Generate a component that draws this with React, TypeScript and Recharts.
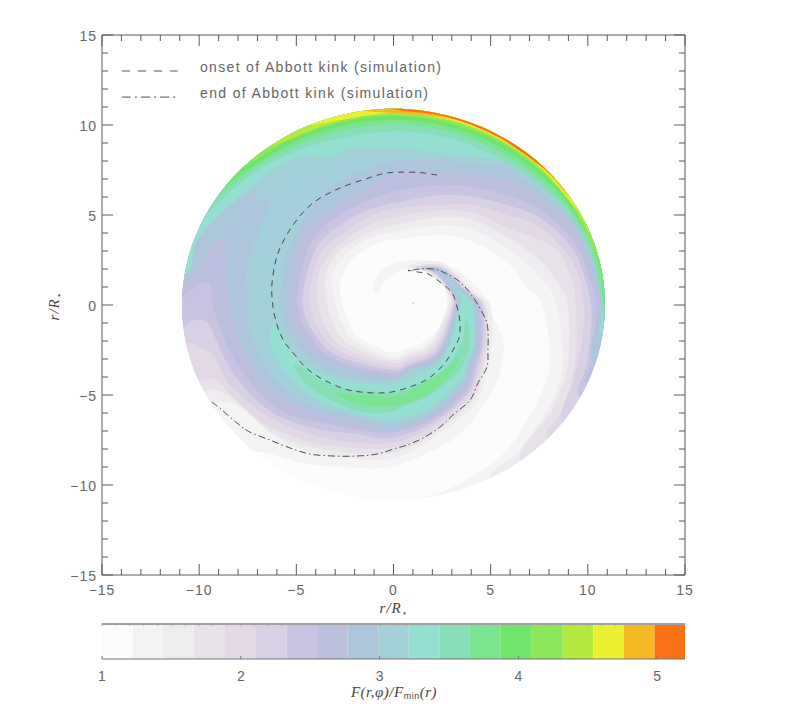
import React from 'react';
import { ScatterChart, Scatter, XAxis, YAxis, BarChart, Bar } from 'recharts';

type Pair = number[];

const axisTicks = [-15,-14,-13,-12,-11,-10,-9,-8,-7,-6,-5,-4,-3,-2,-1,0,1,2,3,4,5,6,7,8,9,10,11,12,13,14,15];
const barMinorTicks = [1,1.1,1.2,1.3,1.4,1.5,1.6,1.7,1.8,1.9,2,2.1,2.2,2.3,2.4,2.5,2.6,2.7,2.8,2.9,3,3.1,3.2,3.3,3.4,3.5,3.6,3.7,3.8,3.9,4,4.1,4.2,4.3,4.4,4.5,4.6,4.7,4.8,4.9,5,5.1,5.2];
const barWidths = [.22,.22,.22,.22,.23,.22,.22,.22,.22,.22,.22,.22,.22,.22,.23,.22,.22,.22,.22];
const levelColors = ['#fcfcfc','#f4f4f4','#eeecee','#e8e2ea','#e2d8e6','#d8d0e4','#c8c4e2','#bcc0de','#aec6dc','#a4d0da','#96dfd3','#88deb6','#7ae48e','#70e46a','#8ce858','#b4ea40','#eaf030','#f4b822','#fa7014'];

const diskRim: Pair[] = [[0,10.88],[15,10.88],[30,10.88],[45,10.88],[60,10.88],[75,10.88],[90,10.9],[105,10.88],[120,10.88],[135,10.88],[150,10.88],[165,10.88],[180,10.88],[195,10.88],[210,10.86],[225,10.84],[240,10.82],[255,10.82],[270,10.82],[285,10.82],[300,10.84],[315,10.86],[330,10.88],[345,10.88]];

const level1: Pair[] = [[-1.06,.83],[-.95,1.39],[-.44,2.06],[.33,2.39],[1.52,2.5],[3.01,2.11],[4.45,.83],[4.97,-.28],[5.58,-1.78],[5.64,-2.89],[5.12,-4.72],[3.78,-6.78],[2.39,-7.89],[-.18,-9],[-2.6,-9],[-4.66,-8.78],[-7.03,-8.17],[-8.41,-9.17],[-14,-6],[-14,13.5],[14,13.5],[14,-9],[4,-13],[.5,-11.6],[1.5,-10.7],[2.75,-10.28],[5.48,-8.44],[7.18,-5.83],[8.05,-3.22],[7.64,0],[6.87,1],[5.84,2.39],[4.09,3.5],[2.39,3.89],[.33,3.67],[-.44,3.56],[-1.31,3.17],[-2.24,2.39],[-2.75,1.11],[-2.6,0],[-2.14,-1.39],[-1.62,-1.94],[-.18,-2.61],[.85,-2.39],[1.88,-1.83],[2.55,-.94],[2.75,-.11],[2.65,.83],[2.03,1.67],[1.36,2.06],[.69,2],[-.03,1.72],[-.49,1.28],[-.8,.67]];
const level2: Pair[] = [[.75,2.17],[1.88,2.44],[2.86,2.11],[4.19,.72],[4.97,0],[5.07,-1.94],[4.71,-4.17],[4.04,-5.72],[1.88,-7.5],[-.18,-8.56],[-2.6,-8.44],[-4.66,-8.06],[-6.36,-7.11],[-7.9,-5.67],[-9.34,-5.39],[-10.5,-6],[-14,-6],[-14,13.5],[14,13.5],[14,-9],[7,-11],[4.97,-9.56],[6.36,-8.22],[7.9,-5.83],[8.67,-3.44],[8.41,0],[7.54,1.56],[5.84,3.17],[4.09,4.17],[2.39,4.44],[.33,4.11],[-.69,3.89],[-1.72,3.44],[-2.6,2.61],[-3.17,1.56],[-2.96,0],[-2.5,-1.39],[-1.93,-2.06],[-.18,-2.89],[.85,-2.61],[1.98,-2],[2.8,0],[2.75,.72],[2.24,1.39],[1.62,1.83],[1.11,2]];
const level3: Pair[] = [[.95,2.11],[1.88,2.28],[2.8,2.06],[4.04,.72],[4.76,0],[4.86,-1.94],[4.55,-4.06],[3.94,-5.44],[1.88,-7.28],[-.18,-8.22],[-2.6,-8.17],[-4.66,-7.78],[-6.36,-7],[-7.9,-5.56],[-8.78,-4.83],[-9.6,-4.72],[-10.7,-5.2],[-14,-6],[-14,13.5],[14,13.5],[14,-9],[9.5,-10],[6.51,-8.6],[8.16,-5.83],[8.98,-3.22],[8.98,0],[8.41,1.28],[7.54,2.5],[5.84,3.78],[4.09,4.72],[2.39,4.89],[.33,4.5],[-.8,4.22],[-1.98,3.61],[-2.96,2.78],[-3.53,1.56],[-3.42,0],[-2.96,-1.39],[-2.19,-2.22],[-.18,-3.06],[.85,-2.78],[2.03,-2.11],[2.91,0],[2.8,.72],[2.29,1.44],[1.62,1.89]];
const level4: Pair[] = [[1.11,2.11],[1.88,2.22],[2.75,2],[3.99,.72],[4.66,0],[4.81,-1.94],[4.45,-3.94],[3.83,-5.28],[1.88,-7.06],[-.18,-7.94],[-2.6,-7.89],[-4.66,-7.5],[-6.51,-6.67],[-8.05,-5.33],[-8.83,-4.44],[-9.34,-4.06],[-9.8,-4.17],[-11,-4.4],[-14,-6],[-14,13.5],[14,13.5],[14,-9],[11,-8.5],[7.9,-7.5],[8.67,-5.83],[9.34,-3.22],[9.39,0],[9.08,1.67],[8.41,3.06],[7.28,3.72],[5.84,4.28],[4.09,5.11],[2.39,5.28],[.33,4.94],[-.95,4.61],[-2.24,3.83],[-3.27,2.89],[-3.89,1.56],[-3.89,0],[-3.42,-1.39],[-2.44,-2.44],[-.18,-3.22],[.85,-2.94],[2.14,-2.28],[3.01,0],[2.86,.72],[2.34,1.5],[1.78,1.89]];
const level5: Pair[] = [[1.26,2.06],[1.98,2.17],[2.7,1.94],[3.89,.72],[4.61,0],[4.71,-1.94],[4.35,-3.72],[3.78,-5.11],[1.88,-6.83],[-.18,-7.67],[-2.6,-7.56],[-4.66,-7.06],[-6.72,-6],[-8.26,-4.61],[-8.78,-3.89],[-9.29,-2.78],[-9.96,-2.39],[-10.47,-2.11],[-11.5,-2.5],[-14,-6],[-14,13.5],[14,13.5],[14,-9],[12,-6.8],[8.72,-6.56],[9.29,-4.17],[9.7,-1.94],[9.8,0],[9.24,2.33],[7.54,4.33],[5.84,5],[4.09,5.56],[2.39,5.56],[.33,5.39],[-1.11,5],[-2.5,4.06],[-3.63,3.06],[-4.19,1.56],[-4.3,0],[-3.83,-1.39],[-2.7,-2.61],[-.18,-3.44],[.85,-3.11],[2.19,-2.39],[3.06,0],[2.91,.72],[2.34,1.56],[1.88,1.89]];
const level6: Pair[] = [[1.47,2.06],[2.08,2.11],[2.7,1.89],[3.78,.72],[4.5,0],[4.61,-1.94],[4.25,-3.61],[3.73,-5],[1.88,-6.61],[-.18,-7.39],[-1.88,-7.17],[-4.14,-6.83],[-6,-6.11],[-7.39,-4.94],[-8.57,-3.22],[-9.29,-1.56],[-9.6,-.94],[-10.32,-.83],[-10.78,-1.22],[-12,-1.6],[-14,13.5],[14,13.5],[14,-9],[12.5,-5.3],[9.6,-5.11],[9.96,-3.22],[10.16,0],[9.24,3.06],[7.54,4.83],[5.84,5.56],[4.09,6],[2.39,6.11],[.33,5.72],[-1.36,5.28],[-2.75,4.44],[-3.89,3.33],[-4.5,1.56],[-4.66,0],[-4.19,-1.39],[-2.96,-2.78],[-.18,-3.61],[.85,-3.28],[2.29,-2.5],[3.11,0],[2.96,.72],[2.39,1.56],[1.93,1.89]];
const level7: Pair[] = [[1.62,2],[2.19,2.06],[2.65,1.83],[3.73,.72],[4.35,0],[4.5,-1.94],[4.14,-3.5],[3.63,-4.83],[1.88,-6.39],[-.18,-7.11],[-1.57,-6.94],[-3.78,-6.5],[-5.69,-5.94],[-7.03,-4.72],[-8.26,-2.89],[-8.93,-1.22],[-9.29,0],[-9.44,1.22],[-10.06,1.11],[-10.47,.83],[-12,.6],[-14,13.5],[14,13.5],[14,-9],[13,-3.6],[9.96,-4.33],[10.2,-3.22],[10.42,0],[10.11,1.39],[9.24,3.61],[7.54,5.28],[5.84,6.11],[4.09,6.56],[2.39,6.67],[.33,6.39],[-1.62,5.67],[-3.01,4.83],[-4.19,3.61],[-4.81,1.56],[-4.92,0],[-4.5,-1.39],[-3.17,-2.94],[-.18,-3.78],[.85,-3.39],[2.34,-2.61],[3.22,0],[3.01,.72],[2.44,1.61],[2.03,1.89]];
const level8: Pair[] = [[1.88,1.89],[2.29,1.94],[2.6,1.83],[3.63,.72],[4.25,0],[4.35,-1.94],[4.04,-3.33],[3.53,-4.61],[1.88,-6.22],[-.18,-6.94],[-1.21,-6.67],[-3.42,-6.17],[-4.97,-5.56],[-6.51,-4.44],[-7.54,-2.89],[-8.16,-1.22],[-8.41,-.28],[-8.62,1.39],[-8.83,3.72],[-10.63,1.39],[-12,1.8],[-14,13.5],[14,13.5],[14,-9],[13,-2.9],[10.27,-3.22],[10.58,0],[10.27,1.67],[9.24,4.33],[7.54,5.94],[5.84,6.94],[4.09,7.22],[2.39,7.33],[.33,7.39],[-1.88,6.22],[-3.42,5.11],[-4.66,4],[-5.17,1.56],[-5.33,0],[-4.97,-1.39],[-3.47,-3.06],[-.18,-4],[.85,-3.5],[2.39,-2.72],[3.27,0],[3.06,.72],[2.44,1.67],[2.08,1.83]];
const level9: Pair[] = [[2.03,1.83],[2.55,1.78],[3.53,.72],[4.14,0],[4.25,-1.94],[3.94,-3.17],[3.47,-4.44],[1.88,-6],[-.18,-6.67],[-1.21,-6.39],[-2.91,-5.94],[-4.3,-5.56],[-5.84,-4.33],[-6.87,-2.89],[-7.39,-1.56],[-7.49,0],[-7.49,2.33],[-6.36,5.67],[-7.13,5.67],[-7.28,6.22],[-8.93,5.11],[-10.47,3.22],[-12,3.8],[-14,13.5],[14,13.5],[14,-9],[12.5,-2.2],[10.68,-1.67],[10.68,0],[10.37,1.94],[9.24,4.72],[7.54,6.28],[5.84,7.61],[4.09,7.78],[2.39,8.06],[.33,8.06],[-1.06,7.67],[-2.6,6.94],[-4.14,5.56],[-4.97,4.06],[-5.53,2.5],[-5.79,.83],[-5.84,0],[-5.48,-1.39],[-3.89,-3.28],[-2.5,-3.94],[-.18,-4.17],[.85,-3.61],[2.5,-2.83],[3.32,0],[3.11,.72],[2.5,1.67]];
const level10Rim: Pair[] = [[-10.68,1.67],[-10.11,3.61],[-8.57,5.39],[-7.39,6.56],[-6,7.67],[-4.66,8.22],[-3.42,8.22],[-2.08,8.72],[-.03,8.72],[2.39,8.44],[4.09,8.22],[5.84,7.94],[7.54,6.78],[9.24,5.11],[10.47,2.06],[10.78,0],[10.78,-1.39],[12,-1.8],[14,13.5],[-14,13.5],[-13,1.5]];
const level10Arm: Pair[] = [[3.06,.72],[3.47,.72],[4.04,0],[4.14,-1.94],[3.83,-3.06],[3.37,-4.28],[1.88,-5.72],[-.18,-6.39],[-1.57,-6.11],[-2.91,-5.67],[-4.14,-5.11],[-5.33,-4],[-6.2,-2.67],[-6.36,-1.78],[-6.2,-1.11],[-5.84,-1.5],[-5.33,-2.5],[-4.66,-3.22],[-3.78,-3.78],[-2.75,-4.17],[-1.57,-4.33],[-.18,-4.44],[.85,-4.06],[2.55,-2.94],[3.47,0],[3.27,.72]];
const level11Arm: Pair[] = [[3.73,-.72],[3.94,-2.11],[3.53,-3.44],[2.75,-4.33],[1.72,-5.11],[.69,-5.56],[-.18,-5.94],[-1.72,-5.94],[-2.91,-5.44],[-4.14,-4.72],[-4.81,-4],[-5.12,-3.33],[-4.66,-3.5],[-3.78,-4.17],[-2.75,-4.61],[-1.21,-4.78],[-.18,-4.89],[1,-4.56],[2.03,-4.06],[2.91,-3.22],[3.32,-2.5],[3.58,-1.78]];
const level12Arm: Pair[] = [[3.32,-2.67],[3.27,-3.22],[2.75,-4.06],[1.88,-4.83],[.85,-5.39],[-.18,-5.61],[-1.21,-5.61],[-2.39,-5.28],[-2.96,-4.89],[-2.08,-5],[-.85,-5.06],[-.18,-5.11],[.69,-4.83],[1.52,-4.33],[2.39,-3.78],[3.06,-3.22]];

// rim crescents, as [angle in degrees, radius], both ends run past the rim
const level11Rim: Pair[] = [[160,11.4],[152,10.85],[135,10.3],[120,9.9],[105,9.65],[90,9.65],[75,9.7],[60,9.78],[45,9.99],[30,10.3],[15,10.55],[0,10.75],[-6,10.88],[-12,11.4]];
const level12Rim: Pair[] = [[154,11.4],[146,10.85],[135,10.5],[120,10.2],[105,10.05],[90,10.05],[75,10.05],[60,10.1],[45,10.25],[30,10.5],[15,10.7],[0,10.82],[-3,10.88],[-10,11.4]];
const level13Rim: Pair[] = [[150,11.4],[142,10.85],[135,10.65],[120,10.4],[105,10.3],[90,10.3],[75,10.3],[60,10.35],[45,10.45],[30,10.62],[15,10.78],[4,10.88],[-4,11.4]];
const level14Rim: Pair[] = [[143,11.4],[135,10.85],[120,10.6],[105,10.5],[90,10.5],[75,10.5],[60,10.55],[45,10.6],[30,10.7],[12,10.88],[4,11.4]];
const level15Rim: Pair[] = [[135,11.4],[127,10.85],[105,10.62],[90,10.6],[75,10.62],[60,10.65],[45,10.7],[30,10.77],[20,10.88],[12,11.4]];
const level16Rim: Pair[] = [[121,11.4],[113,10.85],[90,10.7],[75,10.7],[60,10.72],[45,10.75],[30,10.82],[25,10.88],[17,11.4]];
const level17Rim: Pair[] = [[105,11.4],[97,10.85],[75,10.75],[60,10.76],[45,10.8],[33,10.88],[25,11.4]];
const level18Rim: Pair[] = [[98,11.4],[90,10.87],[75,10.8],[60,10.78],[45,10.84],[42,10.88],[34,11.4]];

const onsetLine: Pair[] = [[2.24,7.22],[1.36,7.36],[.33,7.38],[-.44,7.32],[-1.21,7.08],[-2.75,6.5],[-4.14,5.67],[-5.17,4.44],[-5.94,2.89],[-6.25,1.22],[-6.2,-.11],[-5.94,-1.28],[-5.58,-2.11],[-5.07,-2.78],[-4.55,-3.44],[-3.94,-3.94],[-3.27,-4.33],[-2.5,-4.67],[-1.72,-4.83],[-.85,-4.89],[-.08,-4.83],[.69,-4.61],[1.47,-4.28],[2.03,-3.89],[2.65,-3.22],[3.06,-2.5],[3.37,-1.83],[3.42,-.94],[3.27,-.11],[3.01,.67],[2.39,1.28],[1.78,1.72],[1.26,1.83],[.75,1.94]];
const endLine: Pair[] = [[-9.34,-5.39],[-8.83,-5.83],[-8.05,-6.56],[-7.39,-7.06],[-6.36,-7.5],[-5.33,-7.94],[-4.3,-8.28],[-3.11,-8.39],[-1.88,-8.39],[-.85,-8.28],[.18,-7.94],[.69,-7.78],[1.52,-7.39],[2.39,-6.78],[3.06,-6.11],[3.94,-5.28],[4.35,-4.33],[4.81,-3.44],[4.86,-2.5],[4.86,-1.39],[4.71,-.72],[4.09,.44],[3.42,1.28],[2.65,1.78],[2.03,2],[1.36,2],[.75,1.89]];
const legendOnset: Pair[] = [[-13.97,13],[-11.1,13]];
const legendEnd: Pair[] = [[-13.97,11.55],[-11.1,11.55]];
const starMark: Pair[] = [[1,.1]];

const AXIS_COLOR = '#5a5a5a';
const TEXT_COLOR = '#666666';
const SANS = '"Liberation Sans", sans-serif';
const SERIF = '"Liberation Serif", serif';

const toPoints = (list: Pair[]) => list.map(([x, y]) => ({ x, y }));
const fromPolar = (list: Pair[]) =>
  list.map(([a, r]) => ({ x: r * Math.cos((a * Math.PI) / 180), y: r * Math.sin((a * Math.PI) / 180) }));
// crescent closed outside the disk, the clip trims it to the rim
const crescent = (list: Pair[]) =>
  fromPolar([...list, ...[...list].reverse().map(([a]) => [a, 13])]);

const smoothPath = (pts: { x: number; y: number }[], closed: boolean) => {
  const n = pts.length;
  const at = (i: number) => (closed ? pts[(i + n) % n] : pts[Math.max(0, Math.min(n - 1, i))]);
  let d = `M${pts[0].x},${pts[0].y}`;
  for (let i = 0; i < (closed ? n : n - 1); i++) {
    const p0 = at(i - 1);
    const p1 = at(i);
    const p2 = at(i + 1);
    const p3 = at(i + 2);
    d += `C${p1.x + (p2.x - p0.x) / 6},${p1.y + (p2.y - p0.y) / 6} ${p2.x - (p3.x - p1.x) / 6},${p2.y - (p3.y - p1.y) / 6} ${p2.x},${p2.y}`;
  }
  return closed ? d + 'Z' : d;
};

const fillShape = (fill: string) => (props: any) => (
  <path d={smoothPath(props.points, true)} fill={fill} stroke="none" clipPath="url(#disk)" />
);
const diskShape = (props: any) => (
  <g>
    <defs>
      <clipPath id="disk">
        <path d={smoothPath(props.points, true)} />
      </clipPath>
    </defs>
    <path d={smoothPath(props.points, true)} fill={levelColors[0]} />
  </g>
);
const strokeShape = (dash: string) => (props: any) => (
  <path d={smoothPath(props.points, false)} fill="none" stroke="#3a3a3a" strokeWidth={0.9} strokeDasharray={dash} />
);
const noMark = () => <g />;

const fillSeries: [{ x: number; y: number }[], string][] = [
  [toPoints(level1), levelColors[1]],
  [toPoints(level2), levelColors[2]],
  [toPoints(level3), levelColors[3]],
  [toPoints(level4), levelColors[4]],
  [toPoints(level5), levelColors[5]],
  [toPoints(level6), levelColors[6]],
  [toPoints(level7), levelColors[7]],
  [toPoints(level8), levelColors[8]],
  [toPoints(level9), levelColors[9]],
  [toPoints(level10Rim), levelColors[10]],
  [toPoints(level10Arm), levelColors[10]],
  [toPoints(level11Arm), levelColors[11]],
  [toPoints(level12Arm), levelColors[12]],
  [crescent(level11Rim), levelColors[11]],
  [crescent(level12Rim), levelColors[12]],
  [crescent(level13Rim), levelColors[13]],
  [crescent(level14Rim), levelColors[14]],
  [crescent(level15Rim), levelColors[15]],
  [crescent(level16Rim), levelColors[16]],
  [crescent(level17Rim), levelColors[17]],
  [crescent(level18Rim), levelColors[18]],
];

const fmt = (v: number) => (v < 0 ? `\u2212${-v}` : `${v}`);

const xTick = (side: 'bottom' | 'top') => (props: any) => {
  const { x, y, payload } = props;
  const major = payload.value % 5 === 0;
  const end = side === 'bottom' ? y - (major ? 11 : 6) : y + (major ? 11 : 6);
  return (
    <g>
      <line x1={x} x2={x} y1={y} y2={end} stroke={AXIS_COLOR} strokeWidth={1} />
      {side === 'bottom' && major && (
        <text x={x} y={y + 20} textAnchor="middle" fontFamily={SANS} fontSize={14} letterSpacing={1} fill={TEXT_COLOR}>
          {fmt(payload.value)}
        </text>
      )}
    </g>
  );
};

const yTick = (side: 'left' | 'right') => (props: any) => {
  const { x, y, payload } = props;
  const major = payload.value % 5 === 0;
  const end = side === 'left' ? x + (major ? 11 : 6) : x - (major ? 11 : 6);
  return (
    <g>
      <line x1={x} x2={end} y1={y} y2={y} stroke={AXIS_COLOR} strokeWidth={1} />
      {side === 'left' && major && (
        <text x={x - 5} y={y + 6} textAnchor="end" fontFamily={SANS} fontSize={14} letterSpacing={1} fill={TEXT_COLOR}>
          {fmt(payload.value)}
        </text>
      )}
    </g>
  );
};

const barRow: Record<string, number | string> = { name: 'F', base: 1 };
barWidths.forEach((w, i) => {
  barRow[`cell${i}`] = w;
});
const barData = [barRow];

// small ticks along the top edge, whole numbers also get a label below the bar
const barTick = (props: any) => {
  const { x, y, payload } = props;
  const major = Number.isInteger(payload.value);
  return (
    <g>
      <line x1={x} x2={x} y1={y - 36} y2={y - 33} stroke="#999" strokeWidth={0.7} />
      {major && <line x1={x} x2={x} y1={y} y2={y - 3} stroke="#777" />}
      {major && (
        <text x={x} y={y + 22} textAnchor="middle" fontFamily={SANS} fontSize={14} fill={TEXT_COLOR}>
          {payload.value}
        </text>
      )}
    </g>
  );
};

const RStar = () => (
  <>
    <tspan fontStyle="italic">r/R</tspan>
    <tspan fontSize={9} dy={3} fontFamily='"DejaVu Sans"'>{'\u22c6'}</tspan>
  </>
);

export default function App() {
  return (
    <div style={{ position: 'absolute', left: 0, top: 0, width: 786, height: 709, background: '#fff' }}>
      <div style={{ position: 'absolute', left: 0, top: 0 }}>
        <ScatterChart width={786} height={610} margin={{ top: 25, right: 91, bottom: 5, left: 42 }}>
          <XAxis type="number" dataKey="x" domain={[-15, 15]} ticks={axisTicks} interval={0} height={30} tickSize={0} tickMargin={0} tickLine={false} tick={xTick('bottom')} stroke={AXIS_COLOR} />
          <XAxis type="number" xAxisId="top" orientation="top" dataKey="x" domain={[-15, 15]} ticks={axisTicks} interval={0} height={10} tickSize={0} tickMargin={0} tickLine={false} tick={xTick('top')} stroke={AXIS_COLOR} />
          <YAxis type="number" dataKey="y" domain={[-15, 15]} ticks={axisTicks} interval={0} width={60} tickSize={0} tickMargin={0} tickLine={false} tick={yTick('left')} stroke={AXIS_COLOR} />
          <YAxis type="number" yAxisId="right" orientation="right" dataKey="y" domain={[-15, 15]} ticks={axisTicks} interval={0} width={10} tickSize={0} tickMargin={0} tickLine={false} tick={yTick('right')} stroke={AXIS_COLOR} />
          <Scatter xAxisId="top" yAxisId="right" data={toPoints(starMark)} shape={noMark} isAnimationActive={false} />
          <Scatter data={fromPolar(diskRim)} line={diskShape} shape={noMark} isAnimationActive={false} />
          {fillSeries.map(([pts, color], i) => (
            <Scatter key={i} data={pts} line={fillShape(color)} shape={noMark} isAnimationActive={false} />
          ))}
          <Scatter data={toPoints(onsetLine)} line={strokeShape('6 5')} shape={noMark} isAnimationActive={false} />
          <Scatter data={toPoints(endLine)} line={strokeShape('7 3 1.5 3')} shape={noMark} isAnimationActive={false} />
          <Scatter data={toPoints(legendOnset)} line={strokeShape('8 8')} shape={noMark} isAnimationActive={false} />
          <Scatter data={toPoints(legendEnd)} line={strokeShape('9 4 2 4')} shape={noMark} isAnimationActive={false} />
          <Scatter data={toPoints(starMark)} fill="#f0a070" shape={(p: any) => <circle cx={p.cx} cy={p.cy} r={0.7} fill="#f0a070" />} isAnimationActive={false} />
        </ScatterChart>
      </div>
      <div style={{ position: 'absolute', left: 0, top: 610 }}>
        <BarChart layout="vertical" width={786} height={99} data={barData} margin={{ top: 13, right: 101, bottom: 49, left: 102 }} barCategoryGap={0}>
          <XAxis type="number" domain={[1, 5.2]} ticks={barMinorTicks} interval={0} height={1} tickSize={0} tickMargin={0} tickLine={false} tick={barTick} stroke="#777" allowDataOverflow />
          <YAxis type="category" dataKey="name" hide />
          <Bar dataKey="base" stackId="f" fill="transparent" isAnimationActive={false} />
          {barWidths.map((_, i) => (
            <Bar key={i} dataKey={`cell${i}`} stackId="f" fill={levelColors[i]} isAnimationActive={false} />
          ))}
        </BarChart>
      </div>
      <svg width={786} height={709} style={{ position: 'absolute', left: 0, top: 0, pointerEvents: 'none' }}>
        <rect x={102} y={623} width={583} height={2} fill="#a0a0a0" />
        <text x={200} y={72} fontFamily={SANS} fontSize={14} fill={TEXT_COLOR} textLength={241}>onset of Abbott kink (simulation)</text>
        <text x={200} y={98} fontFamily={SANS} fontSize={14} fill={TEXT_COLOR} textLength={228}>end of Abbott kink (simulation)</text>
        <text x={394} y={613} textAnchor="middle" fontFamily={SERIF} fontSize={15} letterSpacing={1} fill="#444"><RStar /></text>
        <text transform="translate(59,306) rotate(-90)" textAnchor="middle" fontFamily={SERIF} fontSize={15} letterSpacing={1} fill="#444"><RStar /></text>
        <text x={394} y={697} textAnchor="middle" fontFamily={SERIF} fontSize={15} letterSpacing={0.5} fill="#444">
          <tspan fontStyle="italic">F(r,{'\u03c6'})/F</tspan>
          <tspan fontSize={9} dy={2} fontFamily={SANS}>min</tspan>
          <tspan dy={-2} fontStyle="italic">(r)</tspan>
        </text>
      </svg>
    </div>
  );
}
